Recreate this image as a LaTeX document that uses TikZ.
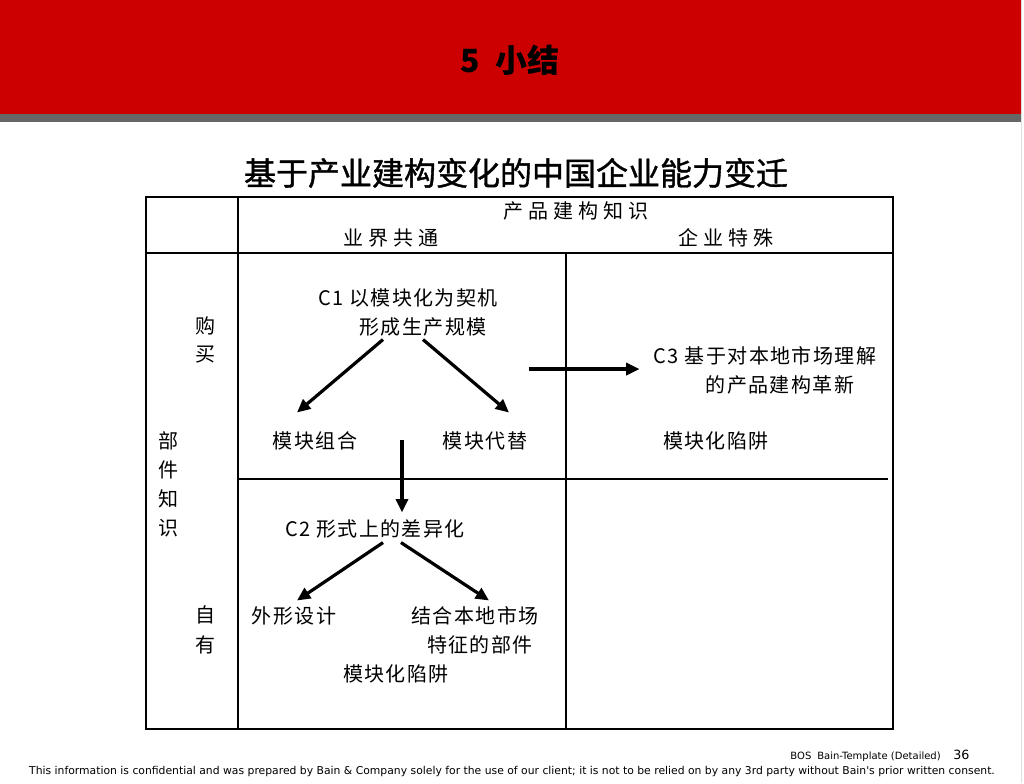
\documentclass[tikz,border=0pt]{standalone}
\usepackage{fontspec}
\usepackage{xcolor}
\usepackage{tikz}
\usetikzlibrary{positioning, arrows.meta, calc}

\newfontfamily\cjk{Noto Sans CJK SC}
\newfontfamily\cjkheavy[FakeBold=1.2]{Noto Sans CJK SC}
\newfontfamily\cjkcell[LetterSpace=7]{Noto Sans CJK SC}
\newfontfamily\cjkwide[LetterSpace=25]{Noto Sans CJK SC}
\newfontfamily\footfont{DejaVu Sans}
\definecolor{bainred}{HTML}{CC0000}
\definecolor{bandgray}{HTML}{666666}

\begin{document}
\begin{tikzpicture}[x=0.75pt, y=-0.75pt, every node/.style={inner sep=0pt, font=\cjkcell\fontsize{15}{15}\selectfont},
    head/.style={font=\cjkwide\fontsize{15}{15}\selectfont},
    arr/.style={line width=2.4pt, -{Triangle[length=10pt, width=9pt]}}]
    \useasboundingbox (0,0) rectangle (1024,783);

    % title bar
    \fill[bainred] (0,0) rectangle (1021,114);
    \fill[bandgray] (0,114) rectangle (1021,122);
    \draw[gray!25] (1021.5,0) -- (1021.5,783);
    \node[font=\cjk\bfseries\fontsize{24}{24}\selectfont] (title) at (510,60) {5\hspace{0.5em}小结};
    \node[font=\cjkheavy\fontsize{24}{24}\selectfont] (subtitle) at (516,173) {基于产业建构变化的中国企业能力变迁};

    % table frame
    \draw[line width=2.2pt] (146,197) rectangle (893,729);
    \draw[line width=1.6pt] (238,197) -- (238,729);
    \draw[line width=1.6pt] (146,253) -- (893,253);
    \draw[line width=1.6pt] (566,253) -- (566,729);
    \draw[line width=1.6pt] (238,479) -- (888,479);

    % headers
    \node[head] (hdr) at (576,211) {产品建构知识};
    \node[head] (common) at (391,238) {业界共通};
    \node[head] (special) at (726,238) {企业特殊};

    % side labels
    \node (buy1) at (205,326) {购};
    \node (buy2) at (205,355) {买};
    \node (part1) at (168,441) {部};
    \node (part2) at (168,470) {件};
    \node (part3) at (168,499) {知};
    \node (part4) at (168,528) {识};
    \node (own1) at (205,615) {自};
    \node (own2) at (205,645) {有};

    % cell texts
    \node (c1a) at (408,298) {C1 以模块化为契机};
    \node (c1b) at (423,327) {形成生产规模};
    \node (zuhe) at (315,441) {模块组合};
    \node (daiti) at (485,441) {模块代替};
    \node (c3a) at (765,356) {C3 基于对本地市场理解};
    \node (c3b) at (780,385) {的产品建构革新};
    \node (trap1) at (716,441) {模块化陷阱};
    \node (c2) at (375,529) {C2 形式上的差异化};
    \node (waixing) at (294,616) {外形设计};
    \node (jiehe1) at (475,616) {结合本地市场};
    \node (jiehe2) at (480,645) {特征的部件};
    \node (trap2) at (396,674) {模块化陷阱};

    % arrows
    \coordinate (vtop) at (402,440);
    \coordinate (htail) at (529,369);
    \draw[arr] ($(c1b.south)+(-40,3)$) -- ($(zuhe.north)+(-18,-19)$);
    \draw[arr] ($(c1b.south)+(0,3)$) -- ($(daiti.north)+(24,-19)$);
    \draw[arr] (vtop) -- ($(vtop |- c2.north)+(0,-7)$);
    \draw[arr] (htail) -- ($(htail -| c3a.west)+(-14,0)$);
    \draw[arr] ($(c2.south)+(8,4)$) -- ($(waixing.north)+(3,-6)$);
    \draw[arr] ($(c2.south)+(26,4)$) -- ($(jiehe1.north)+(14,-6)$);

    % footer
    \node[font=\footfont\fontsize{7.5}{9}\selectfont, anchor=base east] (tmpl) at (941,759) {BOS\hspace{0.6em}Bain-Template (Detailed)};
    \node[font=\footfont\fontsize{9.5}{11}\selectfont, anchor=base west] (pgno) at (953,759) {36};
    \node[font=\footfont\fontsize{8.1}{9}\selectfont] (note) at (512,772) {This information is confidential and was prepared by Bain \& Company solely for the use of our client; it is not to be relied on by any 3rd party without Bain's prior written consent.};
\end{tikzpicture}
\end{document}
